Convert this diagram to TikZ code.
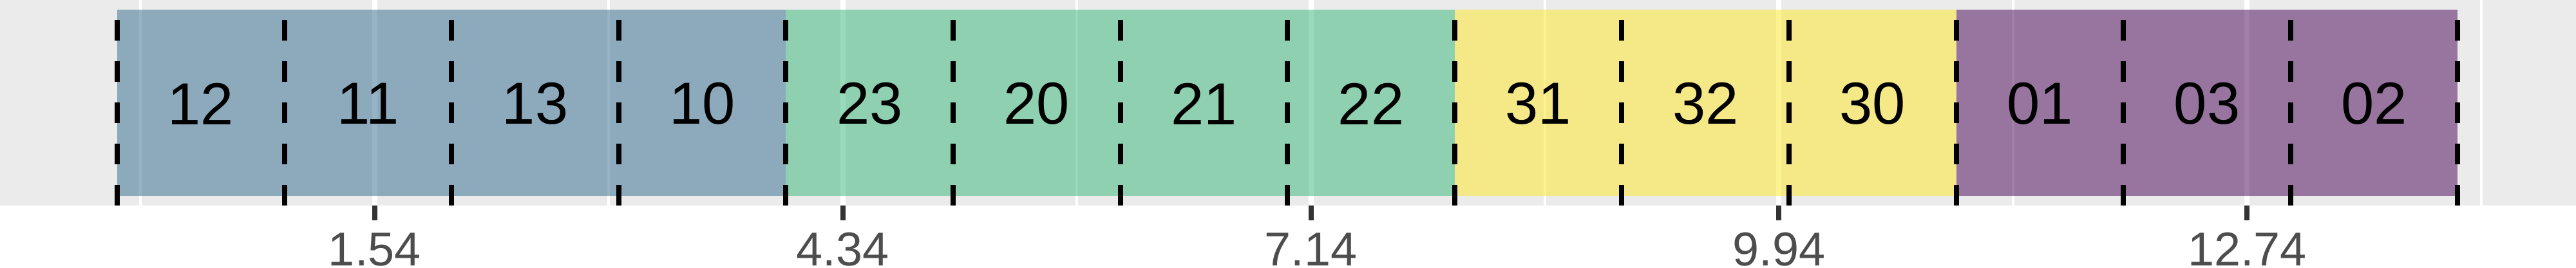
\documentclass[tikz,border=0pt]{standalone}
\usepackage{fontspec}
\setmainfont{Liberation Sans}
\definecolor{panelgray}{HTML}{EBEBEB}
\definecolor{vblue}{HTML}{31688E}
\definecolor{vgreen}{HTML}{35B779}
\definecolor{vyellow}{HTML}{FDE725}
\definecolor{vpurple}{HTML}{440154}
\definecolor{tickgray}{HTML}{333333}
\definecolor{labelgray}{HTML}{4D4D4D}

\begin{document}
\begin{tikzpicture}[x=2.596cm, y=1cm,
  bar/.style={fill opacity=0.5},
  major/.style={white, line width=0.08cm},
  minor/.style={white, line width=0.04cm},
  cut/.style={black, line width=0.08cm, dash pattern=on 0.32cm off 0.32cm},
  axtick/.style={tickgray, line width=0.08cm},
  lab/.style={font=\fontsize{26.2pt}{30pt}\selectfont, inner sep=0pt},
  ticklab/.style={font=\fontsize{21pt}{25pt}\selectfont, text=labelgray, anchor=base, inner sep=0pt}]
\useasboundingbox (-0.7011,0) rectangle (14.7072,4.16);
\fill[panelgray] (-0.7011,0.97) rectangle (14.7072,4.16);
% grid
\draw[minor] (0.14,0.97) -- (0.14,4.16);
\draw[minor] (2.94,0.97) -- (2.94,4.16);
\draw[minor] (5.74,0.97) -- (5.74,4.16);
\draw[minor] (8.54,0.97) -- (8.54,4.16);
\draw[minor] (11.34,0.97) -- (11.34,4.16);
\draw[minor] (14.14,0.97) -- (14.14,4.16);
\draw[major] (1.54,0.97) -- (1.54,4.16);
\draw[major] (4.34,0.97) -- (4.34,4.16);
\draw[major] (7.14,0.97) -- (7.14,4.16);
\draw[major] (9.94,0.97) -- (9.94,4.16);
\draw[major] (12.74,0.97) -- (12.74,4.16);
% groups
\fill[bar, vblue] (0,1.12) rectangle (4,4.01);
\fill[bar, vgreen] (4,1.12) rectangle (8,4.01);
\fill[bar, vyellow] (8,1.12) rectangle (11,4.01);
\fill[bar, vpurple] (11,1.12) rectangle (14,4.01);
% cuts
\draw[cut] (0,0.97) -- (0,4.16);
\draw[cut] (1,0.97) -- (1,4.16);
\draw[cut] (2,0.97) -- (2,4.16);
\draw[cut] (3,0.97) -- (3,4.16);
\draw[cut] (4,0.97) -- (4,4.16);
\draw[cut] (5,0.97) -- (5,4.16);
\draw[cut] (6,0.97) -- (6,4.16);
\draw[cut] (7,0.97) -- (7,4.16);
\draw[cut] (8,0.97) -- (8,4.16);
\draw[cut] (9,0.97) -- (9,4.16);
\draw[cut] (10,0.97) -- (10,4.16);
\draw[cut] (11,0.97) -- (11,4.16);
\draw[cut] (12,0.97) -- (12,4.16);
\draw[cut] (13,0.97) -- (13,4.16);
\draw[cut] (14,0.97) -- (14,4.16);
% labels
\node[lab] (c12) at (0.5,2.55) {12};
\node[lab] (c11) at (1.5,2.55) {11};
\node[lab] (c13) at (2.5,2.55) {13};
\node[lab] (c10) at (3.5,2.55) {10};
\node[lab] (c23) at (4.5,2.55) {23};
\node[lab] (c20) at (5.5,2.55) {20};
\node[lab] (c21) at (6.5,2.55) {21};
\node[lab] (c22) at (7.5,2.55) {22};
\node[lab] (c31) at (8.5,2.55) {31};
\node[lab] (c32) at (9.5,2.55) {32};
\node[lab] (c30) at (10.5,2.55) {30};
\node[lab] (c01) at (11.5,2.55) {01};
\node[lab] (c03) at (12.5,2.55) {03};
\node[lab] (c02) at (13.5,2.55) {02};
% x axis
\draw[axtick] (1.54,0.97) -- (1.54,0.74);
\draw[axtick] (4.34,0.97) -- (4.34,0.74);
\draw[axtick] (7.14,0.97) -- (7.14,0.74);
\draw[axtick] (9.94,0.97) -- (9.94,0.74);
\draw[axtick] (12.74,0.97) -- (12.74,0.74);
\node[ticklab] (t1) at (1.54,0.03) {1.54};
\node[ticklab] (t2) at (4.34,0.03) {4.34};
\node[ticklab] (t3) at (7.14,0.03) {7.14};
\node[ticklab] (t4) at (9.94,0.03) {9.94};
\node[ticklab] (t5) at (12.74,0.03) {12.74};
\end{tikzpicture}
\end{document}
